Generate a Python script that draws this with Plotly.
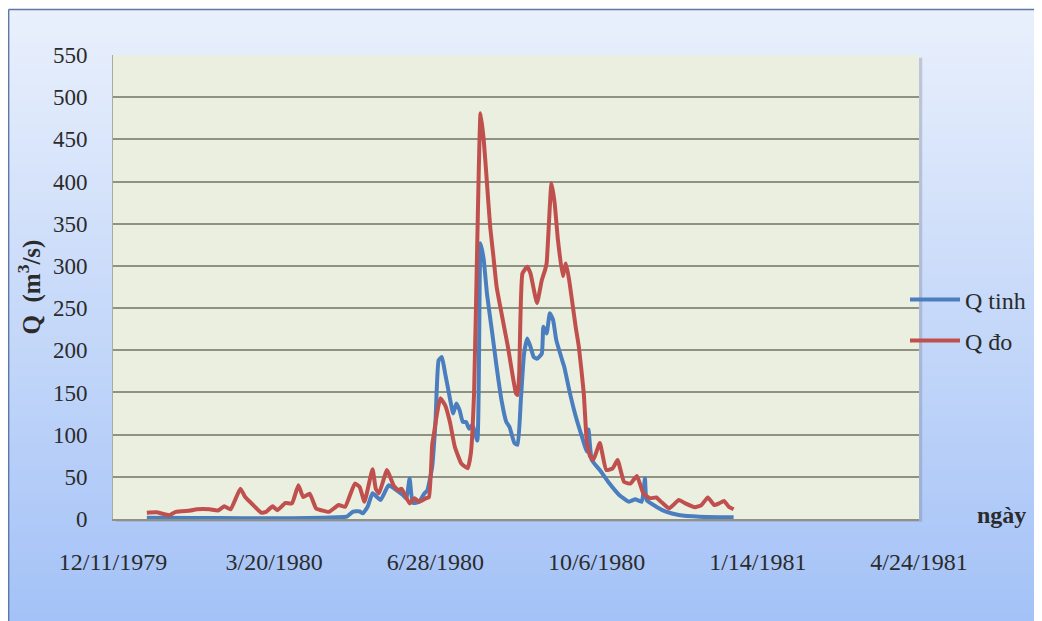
import plotly.graph_objects as go
import pandas as pd

# ---------------- data ----------------
start_date = "1980-01-01"

# Q tinh (computed discharge): day of year 1980 and value (m3/s)
tinh_day = [0, 30, 60, 90, 110, 118, 124, 128, 132, 134, 137, 140, 145, 150, 155,
            159, 161, 163, 165, 169, 172, 174, 177, 179, 181, 183, 185, 188, 190,
            192, 194, 196, 198, 200, 202, 205, 207, 209, 211, 214, 217, 220, 223,
            225, 228, 230, 232, 234, 236, 238, 240, 242, 245, 246, 248, 250, 252,
            254, 258, 259, 262, 266, 270, 273, 274, 276, 281, 287, 293, 299, 303,
            307, 309, 310, 316, 322, 330, 343, 364]
tinh_q = [1.5, 1.2, 1, 1, 1.5, 2, 2.7, 8.7, 9, 6.7, 14.6, 30.5, 22.5, 40, 34,
          28, 24, 48, 19, 20.5, 30, 34, 62, 113, 188, 192, 173, 143, 125,
          137, 129, 115, 115, 107, 112, 93, 327, 307, 267, 224, 180, 141, 115,
          109, 90, 88, 141, 196, 214, 204, 192, 190, 196, 228, 220, 244, 236,
          212, 186, 180, 153, 122, 97, 80, 106, 70, 58, 42, 28.5, 20.5, 23.3,
          20.5, 48, 22.5, 14.6, 8.7, 4.7, 2.7, 2]

# Q do (measured discharge)
do_day = [0, 6, 14, 18, 27, 31, 39, 44, 48, 52, 58, 61, 66, 71, 74, 78, 81, 86,
          90, 94, 97, 101, 105, 109, 113, 119, 123, 129, 132, 135, 140, 142, 144,
          149, 153, 156, 158, 163, 166, 169, 173, 175, 177, 178, 180, 182, 185,
          188, 191, 195, 199, 201, 203, 205, 207, 209, 211, 213, 215, 217, 220,
          224, 227, 229, 230, 231, 233, 236, 238, 242, 245, 247, 248, 251, 253,
          255, 258, 260, 262, 266, 268, 271, 273, 275, 277, 281, 285, 289, 292,
          296, 300, 304, 308, 312, 316, 319, 324, 330, 334, 340, 344, 348, 352,
          355, 358, 361, 364]
do_q = [7.5, 8, 4.5, 8.5, 10, 11.5, 11.5, 10, 15, 11.5, 36, 26, 16.5, 7.5, 8.5,
        15, 10.5, 19, 18.5, 40, 26, 30, 12.5, 10, 8.5, 16.5, 14.5, 42, 38, 20.5,
        59, 36, 30.5, 58, 40, 34, 36, 18.5, 24.5, 20.5, 24.5, 26, 88, 100, 125,
        143, 135, 115, 86, 66, 60, 78, 150, 330, 481, 449, 398, 346, 311, 275,
        244, 204, 169, 149, 147, 173, 291, 299, 291, 256, 283, 295, 303, 398,
        374, 331, 288, 303, 283, 228, 204, 150, 90, 74, 70, 90, 58, 60, 70, 44,
        42, 51, 30.5, 24.5, 25.5, 20.5, 12.5, 22.5, 18.5, 14, 16.5, 25.5, 16.5,
        18.5, 21.5, 14.5, 11.5]

x_tick_dates = ["1979-12-11", "1980-03-20", "1980-06-28", "1980-10-06",
                "1981-01-14", "1981-04-24"]
x_tick_text = ["12/11/1979", "3/20/1980", "6/28/1980", "10/6/1980",
               "1/14/1981", "4/24/1981"]
y_ticks = [0, 50, 100, 150, 200, 250, 300, 350, 400, 450, 500, 550]

assert len(tinh_day) == len(tinh_q)
assert len(do_day) == len(do_q)

base = pd.Timestamp(start_date)
tinh_dates = [base + pd.Timedelta(days=d) for d in tinh_day]
do_dates = [base + pd.Timedelta(days=d) for d in do_day]

# ---------------- layout geometry ----------------
# the page shows the figure with an 8px body margin, so work in page pixels
OFF = 8
PAGE_W, PAGE_H = 1042, 621
W, H = PAGE_W - OFF, PAGE_H - OFF
PL, PR, PT, PB = 113, 920, 55, 519          # plot area in page pixels
L, T = PL - OFF, PT - OFF
R = W - (PR - OFF)
B = H - (PB - OFF)
pw, ph = PR - PL, PB - PT


def px_x(x):
    return (x - PL) / pw


def px_y(y):
    return (PB - y) / ph


FONT = "Liberation Serif, Times New Roman, serif"
TXT = "#2b2b2b"

shapes = []
# background gradient (white-blue at top to light blue at bottom)
top_c = (233, 240, 252)
bot_c = (164, 194, 247)
n = 90
frame_top, frame_left = 9, 8
for i in range(n):
    t = i / (n - 1)
    c = tuple(int(round(top_c[k] + (bot_c[k] - top_c[k]) * t)) for k in range(3))
    y_top = frame_top + (PAGE_H - frame_top) * i / n
    y_bot = frame_top + (PAGE_H - frame_top) * (i + 1) / n + 1
    shapes.append(dict(type="rect", xref="paper", yref="paper", layer="below",
                       x0=px_x(frame_left), x1=px_x(PAGE_W + 40),
                       y0=px_y(y_bot), y1=px_y(y_top),
                       fillcolor="rgb(%d,%d,%d)" % c, line=dict(width=0)))
# frame border: top and left edges
frame_line = dict(color="#5b78a8", width=1.5)
shapes.append(dict(type="line", xref="paper", yref="paper", layer="below",
                   x0=px_x(frame_left + 0.5), x1=px_x(PAGE_W + 40),
                   y0=px_y(frame_top + 0.5), y1=px_y(frame_top + 0.5),
                   line=frame_line))
shapes.append(dict(type="line", xref="paper", yref="paper", layer="below",
                   x0=px_x(frame_left + 0.5), x1=px_x(frame_left + 0.5),
                   y0=px_y(frame_top + 0.5), y1=px_y(PAGE_H + 40),
                   line=frame_line))
# plot-area shadow + background
shapes.append(dict(type="rect", xref="paper", yref="paper", layer="below",
                   x0=0.004, x1=1.004, y0=-0.006, y1=0.994,
                   fillcolor="rgba(120,130,150,0.35)", line=dict(width=0)))
shapes.append(dict(type="rect", xref="paper", yref="paper", layer="below",
                   x0=0, x1=1, y0=0, y1=1,
                   fillcolor="#ebefdf", line=dict(width=0)))

fig = go.Figure()
fig.add_trace(go.Scatter(x=tinh_dates, y=tinh_q, mode="lines", name="Q tinh",
                         line=dict(color="#4a7ebf", width=4, shape="spline",
                                   smoothing=0.4),
                         legend="legend"))
fig.add_trace(go.Scatter(x=do_dates, y=do_q, mode="lines", name="Q đo",
                         line=dict(color="#c0504d", width=4, shape="spline",
                                   smoothing=0.4),
                         legend="legend2"))

leg_common = dict(xanchor="left", yanchor="middle", bgcolor="rgba(0,0,0,0)",
                  itemwidth=50, font=dict(family=FONT, size=24, color=TXT))

fig.update_layout(
    width=W, height=H,
    margin=dict(l=L, r=R, t=T, b=B, pad=0),
    paper_bgcolor="white",
    plot_bgcolor="rgba(0,0,0,0)",
    shapes=shapes,
    font=dict(family=FONT, size=22, color=TXT),
    showlegend=True,
    legend=dict(x=px_x(905), y=px_y(300), **leg_common),
    legend2=dict(x=px_x(905), y=px_y(341), **leg_common),
    xaxis=dict(type="date", range=[x_tick_dates[0], x_tick_dates[-1]],
               tickvals=x_tick_dates, ticktext=x_tick_text,
               showgrid=False, zeroline=False, ticks="",
               showline=True, linecolor="#8f9182", linewidth=1.5,
               ticklabelstandoff=20,
               tickfont=dict(family=FONT, size=24, color=TXT)),
    yaxis=dict(range=[0, 550], tickvals=y_ticks,
               showgrid=True, gridcolor="#8f9182", gridwidth=1.5,
               zeroline=False, ticks="", showline=True, linecolor="#a9ab9c",
               linewidth=1, ticklabelstandoff=20,
               tickfont=dict(family=FONT, size=23, color=TXT),
               title=dict(text="<b>Q  (m<sup>3</sup>/s)</b>", standoff=5,
                          font=dict(family=FONT, size=25, color=TXT))),
    annotations=[dict(text="<b>ngày</b>", xref="paper", yref="paper",
                      x=px_x(1003), y=px_y(515), xanchor="center", yanchor="middle",
                      showarrow=False, font=dict(family=FONT, size=24, color=TXT))],
)

fig.write_html("out.html")
